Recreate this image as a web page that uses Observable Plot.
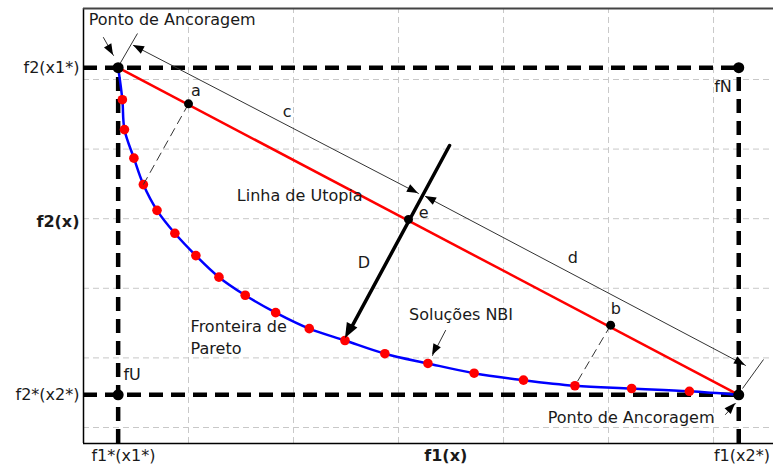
<!DOCTYPE html>
<html><head><meta charset="utf-8">
<script src="https://cdn.jsdelivr.net/npm/d3@7"></script>
<script src="https://cdn.jsdelivr.net/npm/@observablehq/plot@0.6"></script>
<style>body{margin:0;background:#fff}</style>
</head><body><div id="chart"></div>
<script>
// ---- data (in grid units) ----
const gridX = [1, 2, 3, 4, 5, 6];
const gridY = [0, 1, 2, 3, 4, 5];
const xDomain = [0, 6.571];
const yDomain = [-0.23, 6.02];

const f1Star = 0.33, f1X2 = 6.24;      // f1*(x1*), f1(x2*)
const f2X1 = 5.17, f2Star = 0.47;      // f2(x1*), f2*(x2*)

const paretoF1 = [0.37, 0.39, 0.48, 0.57, 0.70, 0.87, 1.07, 1.29, 1.54, 1.83, 2.15, 2.49, 2.87, 3.28, 3.72, 4.19, 4.68, 5.22, 5.77];
const paretoF2 = [4.71, 4.28, 3.87, 3.49, 3.12, 2.79, 2.47, 2.16, 1.90, 1.65, 1.42, 1.25, 1.06, 0.92, 0.78, 0.68, 0.60, 0.56, 0.52];

const utopiaNames = ["a", "e", "b"];
const utopiaF1 = [1.00, 3.095, 5.02];
const utopiaF2 = [4.65, 2.99, 1.47];
const projF1 = [0.57, null, 4.68];     // pareto point linked by dashed line
const projF2 = [3.49, null, 0.60];

const yTickVals = [5.17, 2.95, 0.47];
const yTickText = ["f2(x1*)", "f2(x)", "f2*(x2*)"];
const yTickBold = [false, true, false];
const xTickVals = [0.38, 3.45, 6.27];
const xTickText = ["f1*(x1*)", "f1(x)", "f1(x2*)"];
const xTickBold = [false, true, false];

const labelText = ["Ponto de Ancoragem", "Ponto de Ancoragem", "a", "c", "d", "e", "b", "D", "fN", "fU", "Linha de Utopia", "Fronteira de", "Pareto", "Soluções NBI"];
const labelX = [0.05, 4.42, 1.07, 1.94, 4.66, 3.24, 5.07, 2.67, 6.09, 0.38, 1.46, 1.02, 1.02, 3.10];
const labelY = [5.85, 0.14, 4.84, 4.53, 2.44, 3.08, 1.70, 2.37, 4.89, 0.75, 3.33, 1.44, 1.13, 1.62];
const labelAnchor = ["start", "start", "middle", "middle", "middle", "middle", "middle", "middle", "middle", "start", "start", "start", "start", "start"];

// arrows: [x1, y1, x2, y2, headAtStart, headAtEnd, kind]
const arrowsData = [
  [0.476, 5.489, 3.190, 3.362, true, true, "thin"],   // c
  [3.257, 3.319, 6.305, 0.891, true, true, "thin"],   // d
  [3.486, 4.052, 2.495, 1.279, false, true, "thick"], // D
  [0.190, 5.603, 0.286, 5.345, false, true, "thin"],  // Ponto de Ancoragem (top)
  [6.114, 0.187, 6.210, 0.345, false, true, "thin"],  // Ponto de Ancoragem (bottom)
  [3.448, 1.394, 3.324, 1.034, false, true, "thin"]   // Soluções NBI
];
const perpTicks = [
  [0.343, 5.216, 0.514, 5.661],
  [6.276, 0.560, 6.476, 0.977]
];

// ---- derived tables ----
const pareto = paretoF1.map((x, i) => ({x, y: paretoF2[i]}));
const curve = [{x: f1Star, y: f2X1}, ...pareto, {x: f1X2, y: f2Star}];
const utopia = utopiaNames.map((n, i) => ({n, x: utopiaF1[i], y: utopiaF2[i]}));
const links = utopia.map((d, i) => ({x1: d.x, y1: d.y, x2: projF1[i], y2: projF2[i]})).filter(d => d.x2 != null);
const bigPts = [{x: f1Star, y: f2X1}, {x: f1X2, y: f2X1}, {x: f1Star, y: f2Star}, {x: f1X2, y: f2Star}];
const yTicks = yTickVals.map((v, i) => ({v, t: yTickText[i], b: yTickBold[i]}));
const xTicks = xTickVals.map((v, i) => ({v, t: xTickText[i], b: xTickBold[i]}));
const labels = labelText.map((t, i) => ({t, x: labelX[i], y: labelY[i], a: labelAnchor[i]}));
const arrows = arrowsData.map(([x1, y1, x2, y2, hs, he, k]) => ({x1, y1, x2, y2, hs, he, k}));
const ticks = perpTicks.map(([x1, y1, x2, y2]) => ({x1, y1, x2, y2}));

const HEAD = {thin: [11, 4.2], thick: [15, 6]};

function headsMark(data) {
  return (index, scales) => {
    const g = d3.create("svg:g").attr("fill", "#000");
    const tri = (xt, yt, xf, yf, L, W) => {
      const ang = Math.atan2(yt - yf, xt - xf);
      const bx = xt - L * Math.cos(ang), by = yt - L * Math.sin(ang);
      const px = -Math.sin(ang) * W, py = Math.cos(ang) * W;
      g.append("path").attr("d", `M${xt},${yt}L${bx + px},${by + py}L${bx - px},${by - py}Z`);
    };
    for (const d of data) {
      const [L, W] = HEAD[d.k];
      const x1 = scales.x(d.x1), y1 = scales.y(d.y1), x2 = scales.x(d.x2), y2 = scales.y(d.y2);
      if (d.he) tri(x2, y2, x1, y1, L, W);
      if (d.hs) tri(x1, y1, x2, y2, L, W);
    }
    return g.node();
  };
}

const font = "DejaVu Sans, Verdana, sans-serif";
const thickDash = {stroke: "#000", strokeWidth: 4.5, strokeDasharray: "14,8"};
const txt = {fill: "#1a1a1a", fontSize: 16};

const chart = Plot.plot({
  width: 773, height: 466,
  marginLeft: 83, marginRight: 0, marginTop: 8, marginBottom: 23,
  x: {domain: xDomain, axis: null},
  y: {domain: yDomain, axis: null},
  style: {fontFamily: font, fontSize: "16px", background: "#fff", overflow: "visible"},
  marks: [
    // grid
    Plot.ruleX(gridX, {x: d => d, y1: yDomain[0], y2: yDomain[1], stroke: "#c8c8c8", strokeWidth: 1, strokeDasharray: "6,4"}),
    Plot.ruleY(gridY, {y: d => d, x1: xDomain[0], x2: xDomain[1], stroke: "#c8c8c8", strokeWidth: 1, strokeDasharray: "6,4"}),
    // frame
    Plot.ruleX([xDomain[0]], {y1: yDomain[0], y2: yDomain[1], stroke: "#000", strokeWidth: 1.5}),
    Plot.ruleY([yDomain[1]], {x1: xDomain[0], x2: xDomain[1], stroke: "#444", strokeWidth: 2}),
    Plot.ruleY([yDomain[0]], {x1: xDomain[0], x2: xDomain[1], stroke: "#000", strokeWidth: 1.5}),
    // thick dashed reference lines
    Plot.ruleY([f2X1], {x1: xDomain[0], x2: f1X2, ...thickDash}),
    Plot.ruleY([f2Star], {x1: xDomain[0], x2: f1X2, ...thickDash}),
    Plot.ruleX([f1Star], {y1: yDomain[0], y2: f2X1, ...thickDash}),
    Plot.ruleX([f1X2], {y1: yDomain[0], y2: f2X1, ...thickDash}),
    // utopia line
    Plot.link([{x1: f1Star, y1: f2X1, x2: f1X2, y2: f2Star}], {x1: "x1", y1: "y1", x2: "x2", y2: "y2", stroke: "#ff0000", strokeWidth: 2.5}),
    // pareto front
    Plot.line(curve, {x: "x", y: "y", stroke: "#0000ff", strokeWidth: 2.5, curve: "catmull-rom"}),
    Plot.dot(pareto, {x: "x", y: "y", r: 4.8, fill: "#ff0000"}),
    // dashed projections
    Plot.link(links, {x1: "x1", y1: "y1", x2: "x2", y2: "y2", stroke: "#333", strokeWidth: 1, strokeDasharray: "9,5"}),
    // perpendicular end ticks
    Plot.link(ticks, {x1: "x1", y1: "y1", x2: "x2", y2: "y2", stroke: "#333", strokeWidth: 1}),
    // arrow shafts
    Plot.arrow(arrows.filter(d => d.k === "thin"), {x1: "x1", y1: "y1", x2: "x2", y2: "y2", headLength: 0, stroke: "#333", strokeWidth: 1}),
    Plot.arrow(arrows.filter(d => d.k === "thick"), {x1: "x1", y1: "y1", x2: "x2", y2: "y2", headLength: 0, stroke: "#000", strokeWidth: 3.5, insetEnd: 10}),
    headsMark(arrows),
    // points
    Plot.dot(bigPts, {x: "x", y: "y", r: 5.5, fill: "#000"}),
    Plot.dot(utopia, {x: "x", y: "y", r: 4.5, fill: "#000"}),
    // labels
    Plot.text(labels.filter(d => d.a === "start"), {x: "x", y: "y", text: "t", textAnchor: "start", ...txt}),
    Plot.text(labels.filter(d => d.a === "middle"), {x: "x", y: "y", text: "t", textAnchor: "middle", ...txt}),
    // axis labels
    Plot.text(yTicks.filter(d => !d.b), {x: xDomain[0], y: "v", text: "t", textAnchor: "end", dx: -4, ...txt}),
    Plot.text(yTicks.filter(d => d.b), {x: xDomain[0], y: "v", text: "t", textAnchor: "end", dx: -4, fontWeight: "bold", ...txt}),
    Plot.text(xTicks.filter(d => !d.b), {x: "v", y: yDomain[0], text: "t", textAnchor: "middle", dy: 12, ...txt}),
    Plot.text(xTicks.filter(d => d.b), {x: "v", y: yDomain[0], text: "t", textAnchor: "middle", dy: 12, fontWeight: "bold", ...txt})
  ]
});
document.getElementById("chart").appendChild(chart);
</script>
</body></html>
